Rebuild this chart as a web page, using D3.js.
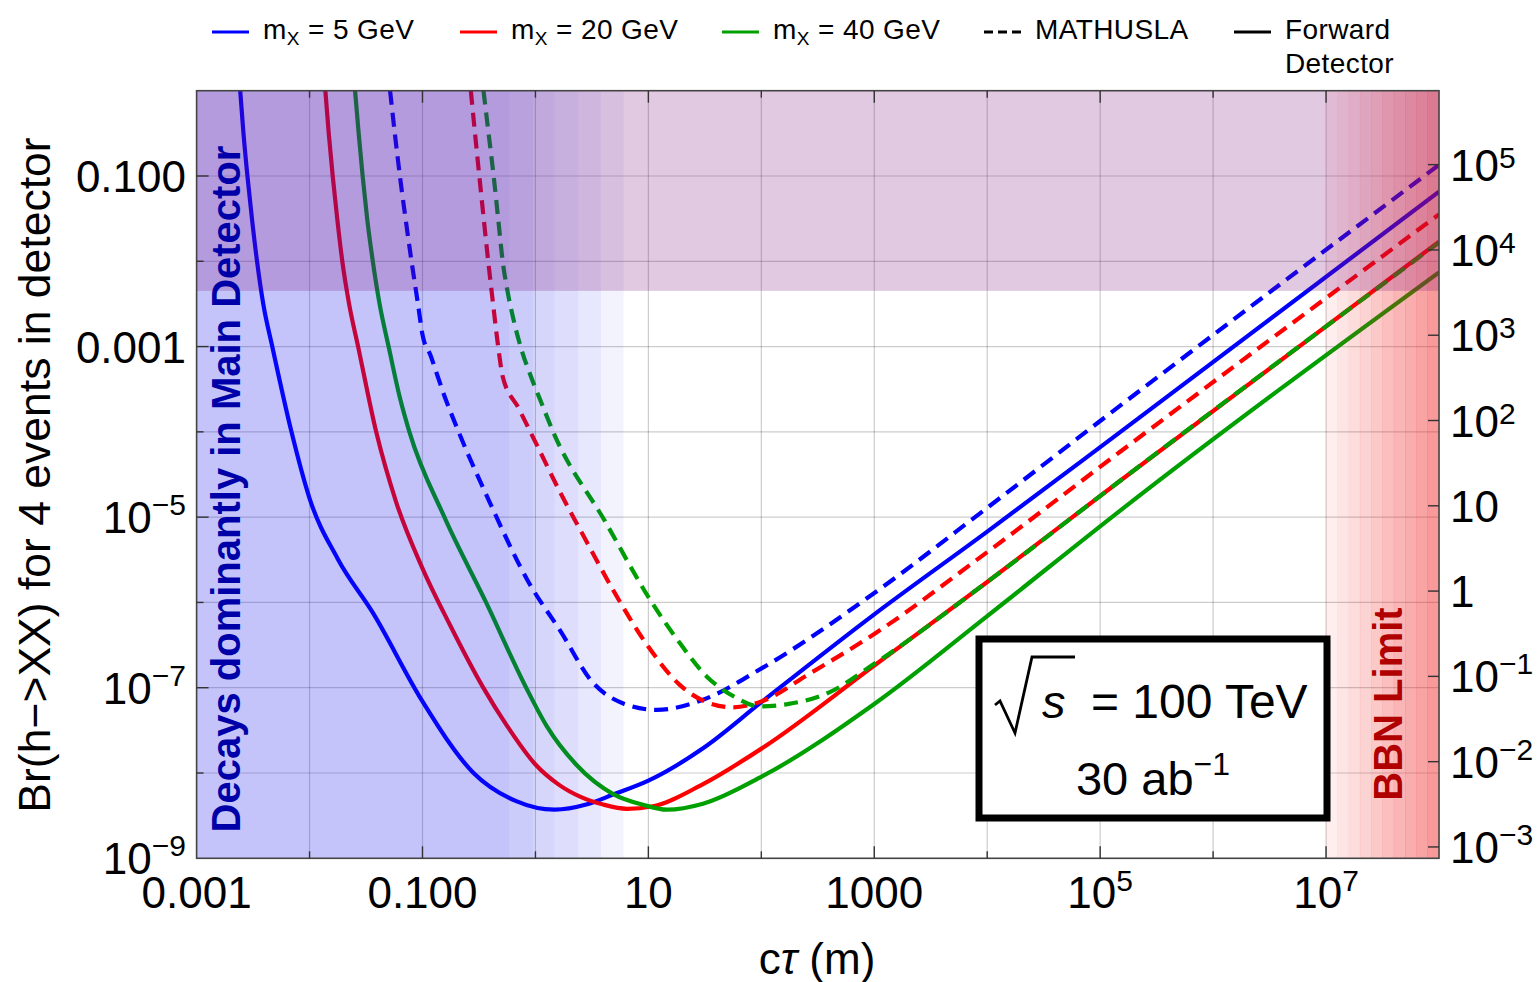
<!DOCTYPE html>
<html>
<head>
<meta charset="utf-8">
<script src="https://cdn.jsdelivr.net/npm/d3@7"></script>
<style>
  body { margin: 0; background: #fff; }
  svg text { font-family: "Liberation Sans", Arial, sans-serif; fill: #000; }
</style>
</head>
<body>
<script>
// ---- data (log10 c*tau in m, log10 Br) ----
const blueSolid = [[-2.614,0],[-2.585,-0.5],[-2.55,-1.0],[-2.51,-1.5],[-2.465,-2.0],[-2.41,-2.5],[-2.33,-3.0],[-2.16,-4.0],
  [-2.0,-4.78],[-1.75,-5.49],[-1.44,-6.12],[-1.0,-7.16],[-0.555,-7.99],[-0.17,-8.33],[0.17,-8.43],[0.45,-8.37],
  [0.693,-8.25],[1.0,-8.09],[1.484,-7.71],[2.0,-7.17],[3.0,-6.14],[4.0,-5.17],[5.18,-4.0],[8,-1.184]];
const redSolid = [[-1.86,0],[-1.83,-0.5],[-1.795,-1.0],[-1.755,-1.5],[-1.71,-2.0],[-1.65,-2.5],[-1.57,-3.0],[-1.41,-4.0],
  [-1.234,-4.82],[-1.0,-5.6],[-0.762,-6.25],[-0.466,-6.99],[-0.25,-7.45],[0.0,-7.9],[0.2,-8.13],[0.4,-8.28],
  [0.6,-8.37],[0.81,-8.42],[1.04,-8.39],[1.484,-8.13],[2.006,-7.71],[3.0,-6.74],[4.0,-5.76],[5.18,-4.57],[8,-1.77]];
const greenSolid = [[-1.597,0],[-1.565,-0.5],[-1.53,-1.0],[-1.49,-1.5],[-1.44,-2.0],[-1.38,-2.5],[-1.30,-3.0],[-1.20,-3.6],
  [-1.116,-4.0],[-0.806,-5.0],[-0.437,-6.0],[-0.082,-7.0],[0.1,-7.45],[0.36,-7.9],[0.693,-8.25],[0.945,-8.37],
  [1.167,-8.43],[1.484,-8.36],[2.006,-8.04],[3.0,-7.19],[4.0,-6.16],[5.18,-4.92],[8,-2.13]];
const blueDashed = [[-1.287,0],[-1.245,-0.5],[-1.2,-1.0],[-1.15,-1.5],[-1.097,-2.0],[-1.04,-2.5],[-1.0,-2.86],[-0.93,-3.1],
  [-0.8,-3.6],[-0.68,-4.0],[-0.407,-4.82],[-0.053,-5.78],[0.219,-6.33],[0.502,-6.93],[0.788,-7.19],[1.073,-7.26],
  [1.484,-7.14],[2.006,-6.77],[3.0,-5.89],[4.0,-4.89],[5.18,-3.69],[8,-0.87]];
const redDashed = [[-0.572,0],[-0.535,-0.5],[-0.497,-1.0],[-0.458,-1.5],[-0.418,-2.0],[-0.375,-2.5],[-0.33,-3.0],[-0.29,-3.35],
  [-0.15,-3.72],[0.0,-4.12],[0.219,-4.71],[0.45,-5.28],[0.69,-5.86],[1.0,-6.52],[1.28,-6.97],[1.5,-7.16],[1.75,-7.23],
  [2.0,-7.16],[2.433,-6.83],[3.0,-6.37],[4.0,-5.41],[5.18,-4.23],[8,-1.45]];
const greenDashed = [[-0.46,0],[-0.415,-0.5],[-0.37,-1.0],[-0.33,-1.5],[-0.29,-2.0],[-0.248,-2.345],[-0.2,-2.65],[-0.12,-3.05],
  [-0.04,-3.35],[0.05,-3.65],[0.157,-4.0],[0.617,-5.05],[1.016,-5.97],[1.28,-6.48],[1.518,-6.87],[1.754,-7.1],
  [1.99,-7.22],[2.243,-7.19],[2.592,-7.06],[3.0,-6.72],[4.0,-5.76],[5.18,-4.57],[8,-1.78]];

const seriesNames = ["mX5 forward","mX20 forward","mX40 forward","mX5 MATHUSLA","mX20 MATHUSLA","mX40 MATHUSLA"];
const seriesData = [blueSolid, redSolid, greenSolid, blueDashed, redDashed, greenDashed];
const seriesColors = ["#0000ff","#ff0000","#00a000","#0000ff","#ff0000","#00a000"];
const seriesDashed = [false,false,false,true,true,true];

const legendLabels = [["m","X"," = 5 GeV"],["m","X"," = 20 GeV"],["m","X"," = 40 GeV"],["MATHUSLA"],["Forward","Detector"]];
const legendColors = ["#0000ff","#ff0000","#00a000","#000","#000"];
const legendDashed = [false,false,false,true,false];

const xLabelTicks = [1e-3,1e-1,1e1,1e3,1e5,1e7];
const xLabelText = [["0.001"],["0.100"],["10"],["1000"],["10","5"],["10","7"]];
const yLabelTicks = [1e-1,1e-3,1e-5,1e-7,1e-9];
const yLabelText = [["0.100"],["0.001"],["10","\u22125"],["10","\u22127"],["10","\u22129"]];
const rightTicks = [1e5,1e4,1e3,1e2,1e1,1,1e-1,1e-2,1e-3];
const rightText = [["10","5"],["10","4"],["10","3"],["10","2"],["10"],["1"],["10","\u22121"],["10","\u22122"],["10","\u22123"]];
const eventsPerBr = Math.pow(10, 5.867);   // right axis = Br * this

const excludedBr = 4.5e-3;                  // top band
const mainDetEdges = [-3,-0.23,-0.02,0.17,0.38,0.58,0.78];   // log10 c*tau
const mainDetAlpha = [0.25,0.215,0.175,0.14,0.1,0.05];
const bbnEdges = [7,7.1,7.2,7.3,7.4,7.5,7.6,7.7,7.8,7.9,8];
const bbnAlpha = [0.07,0.11,0.15,0.19,0.23,0.27,0.31,0.35,0.39,0.43];

// ---- layout ----
const W = 1539, H = 982;
const plot = {left: 196.6, right: 1439, top: 90.7, bottom: 858.3};

const svg = d3.select("body").append("svg").attr("width", W).attr("height", H);

const x = d3.scaleLog().domain([1e-3, 1e8]).range([plot.left, plot.right]);
const y = d3.scaleLog().domain([1e-9, 1]).range([plot.bottom, plot.top]);
const yRight = d3.scaleLog().domain([1e-9 * eventsPerBr, eventsPerBr]).range([plot.bottom, plot.top]);

svg.append("clipPath").attr("id", "clip").append("rect")
  .attr("x", plot.left).attr("y", plot.top)
  .attr("width", plot.right - plot.left).attr("height", plot.bottom - plot.top);

// grid
const decadesX = d3.range(-2, 8).map(e => Math.pow(10, e));
const decadesY = d3.range(-8, 0).map(e => Math.pow(10, e));
const grid = svg.append("g").attr("stroke", "#000").attr("stroke-opacity", 0.2).attr("stroke-width", 1.2);
grid.selectAll(".gx").data(decadesX).enter().append("line")
  .attr("x1", d => x(d)).attr("x2", d => x(d)).attr("y1", plot.top).attr("y2", plot.bottom);
grid.selectAll(".gy").data(decadesY).enter().append("line")
  .attr("y1", d => y(d)).attr("y2", d => y(d)).attr("x1", plot.left).attr("x2", plot.right);

// curves
const line = d3.line()
  .x(d => x(Math.pow(10, d[0])))
  .y(d => y(Math.pow(10, d[1])))
  .curve(d3.curveMonotoneX);

svg.append("g").attr("clip-path", "url(#clip)")
  .selectAll("path").data(seriesData).enter().append("path")
  .attr("d", line)
  .attr("fill", "none")
  .attr("stroke", (d, i) => seriesColors[i])
  .attr("stroke-width", 4.2)
  .attr("stroke-dasharray", (d, i) => seriesDashed[i] ? "14,8" : null)
  .attr("data-name", (d, i) => seriesNames[i]);

// shaded regions (drawn over the curves, translucent)
const shade = svg.append("g");
shade.selectAll(".md").data(mainDetAlpha).enter().append("rect")
  .attr("x", (d, i) => x(Math.pow(10, mainDetEdges[i])))
  .attr("width", (d, i) => x(Math.pow(10, mainDetEdges[i + 1])) - x(Math.pow(10, mainDetEdges[i])))
  .attr("y", plot.top).attr("height", plot.bottom - plot.top)
  .attr("fill", "rgb(20,20,235)").attr("fill-opacity", d => d);
shade.selectAll(".bbn").data(bbnAlpha).enter().append("rect")
  .attr("x", (d, i) => x(Math.pow(10, bbnEdges[i])))
  .attr("width", (d, i) => x(Math.pow(10, bbnEdges[i + 1])) - x(Math.pow(10, bbnEdges[i])) + 0.3)
  .attr("y", plot.top).attr("height", plot.bottom - plot.top)
  .attr("fill", "rgb(240,20,20)").attr("fill-opacity", d => d);
shade.append("rect")
  .attr("x", plot.left).attr("width", plot.right - plot.left)
  .attr("y", plot.top).attr("height", y(excludedBr) - plot.top)
  .attr("fill", "rgb(118,10,118)").attr("fill-opacity", 0.22);

// frame and ticks
svg.append("rect")
  .attr("x", plot.left).attr("y", plot.top)
  .attr("width", plot.right - plot.left).attr("height", plot.bottom - plot.top)
  .attr("fill", "none").attr("stroke", "#444").attr("stroke-width", 1.6);

const ticks = svg.append("g").attr("stroke", "#333").attr("stroke-width", 1.4);
const allX = d3.range(-2, 8).map(e => Math.pow(10, e));
const isMajorX = d => xLabelTicks.some(t => Math.abs(Math.log10(t) - Math.log10(d)) < 1e-6);
ticks.selectAll(".tb").data(allX).enter().append("line")
  .attr("x1", d => x(d)).attr("x2", d => x(d))
  .attr("y1", plot.bottom).attr("y2", d => plot.bottom - (isMajorX(d) ? 12 : 7));
ticks.selectAll(".tt").data(allX).enter().append("line")
  .attr("x1", d => x(d)).attr("x2", d => x(d))
  .attr("y1", plot.top).attr("y2", d => plot.top + (isMajorX(d) ? 12 : 7));
const allY = d3.range(-8, 0).map(e => Math.pow(10, e));
const isMajorY = d => yLabelTicks.some(t => Math.abs(Math.log10(t) - Math.log10(d)) < 1e-6);
ticks.selectAll(".tl").data(allY).enter().append("line")
  .attr("y1", d => y(d)).attr("y2", d => y(d))
  .attr("x1", plot.left).attr("x2", d => plot.left + (isMajorY(d) ? 12 : 7));
ticks.selectAll(".tr").data(rightTicks).enter().append("line")
  .attr("y1", d => yRight(d)).attr("y2", d => yRight(d))
  .attr("x1", plot.right).attr("x2", plot.right - 11);

// tick labels
function powLabel(sel, parts, shift) {
  sel.append("tspan").text(parts[0]);
  if (parts.length > 1) {
    sel.append("tspan").attr("font-size", 30).attr("dy", shift).text(parts[1]);
  }
}
xLabelTicks.forEach((t, i) => {
  const tx = svg.append("text").attr("x", x(t)).attr("y", 908)
    .attr("text-anchor", "middle").attr("font-size", 44);
  powLabel(tx, xLabelText[i], -17);
});
yLabelTicks.forEach((t, i) => {
  const tx = svg.append("text").attr("x", 186).attr("y", y(t) + 16)
    .attr("text-anchor", "end").attr("font-size", 44);
  powLabel(tx, yLabelText[i], -18);
});
rightTicks.forEach((t, i) => {
  const tx = svg.append("text").attr("x", 1450).attr("y", yRight(t) + 16)
    .attr("text-anchor", "start").attr("font-size", 44);
  const neg = rightText[i].length > 1 && rightText[i][1].startsWith("\u2212");
  powLabel(tx, rightText[i], neg ? -18 : -13);
});

// axis titles
const xt = svg.append("text").attr("x", 817).attr("y", 974).attr("text-anchor", "middle").attr("font-size", 44);
xt.append("tspan").text("c");
xt.append("tspan").attr("font-style", "italic").text("\u03c4");
xt.append("tspan").text(" (m)");

svg.append("text").attr("transform", "translate(50,475) rotate(-90)")
  .attr("text-anchor", "middle").attr("font-size", 44.5)
  .text("Br(h\u2212>XX) for 4 events in detector");

// region labels
svg.append("text").attr("transform", "translate(240,489) rotate(-90)")
  .attr("text-anchor", "middle").attr("font-size", 40).attr("font-weight", "bold")
  .style("fill", "#0000a8").text("Decays dominantly in Main Detector");
svg.append("text").attr("transform", "translate(1402,704) rotate(-90)")
  .attr("text-anchor", "middle").attr("font-size", 40).attr("font-weight", "bold")
  .style("fill", "#b00000").text("BBN Limit");

// annotation box
const box = {x: 979, y: 639, w: 348, h: 179};
svg.append("rect").attr("x", box.x).attr("y", box.y).attr("width", box.w).attr("height", box.h)
  .attr("fill", "#fff").attr("stroke", "#000").attr("stroke-width", 7);
svg.append("path")
  .attr("d", `M${box.x + 16},${box.y + 66} L${box.x + 21},${box.y + 62} L${box.x + 36},${box.y + 94} L${box.x + 53},${box.y + 18} L${box.x + 96},${box.y + 18}`)
  .attr("fill", "none").attr("stroke", "#000").attr("stroke-width", 2.8).attr("stroke-linejoin", "miter");
svg.append("text").attr("x", box.x + 63).attr("y", box.y + 79).attr("font-size", 47)
  .attr("font-style", "italic").text("s");
svg.append("text").attr("x", box.x + 112).attr("y", box.y + 79).attr("font-size", 48).text("= 100 TeV");
const lum = svg.append("text").attr("x", box.x + box.w / 2).attr("y", box.y + 156)
  .attr("text-anchor", "middle").attr("font-size", 47);
lum.append("tspan").text("30 ab");
lum.append("tspan").attr("font-size", 32).attr("dy", -20).text("\u22121");

// legend
const legendX = [212, 460, 722, 984, 1234];
const legend = svg.append("g");
legendLabels.forEach((lab, i) => {
  const g = legend.append("g").attr("transform", `translate(${legendX[i]},0)`);
  g.append("line").attr("x1", 0).attr("x2", 37).attr("y1", 32).attr("y2", 32)
    .attr("stroke", legendColors[i]).attr("stroke-width", 3)
    .attr("stroke-dasharray", legendDashed[i] ? "9,5" : null);
  const t = g.append("text").attr("x", 51).attr("y", 39).attr("font-size", 28).attr("letter-spacing", 0.4);
  if (lab.length === 3) {
    t.append("tspan").text(lab[0]);
    t.append("tspan").attr("font-size", 19).attr("dy", 6).text(lab[1]);
    t.append("tspan").attr("dy", -6).text(lab[2]);
  } else {
    t.text(lab[0]);
    if (lab[1]) {
      g.append("text").attr("x", 51).attr("y", 73).attr("font-size", 28).attr("letter-spacing", 0.4).text(lab[1]);
    }
  }
});
</script>
</body>
</html>
